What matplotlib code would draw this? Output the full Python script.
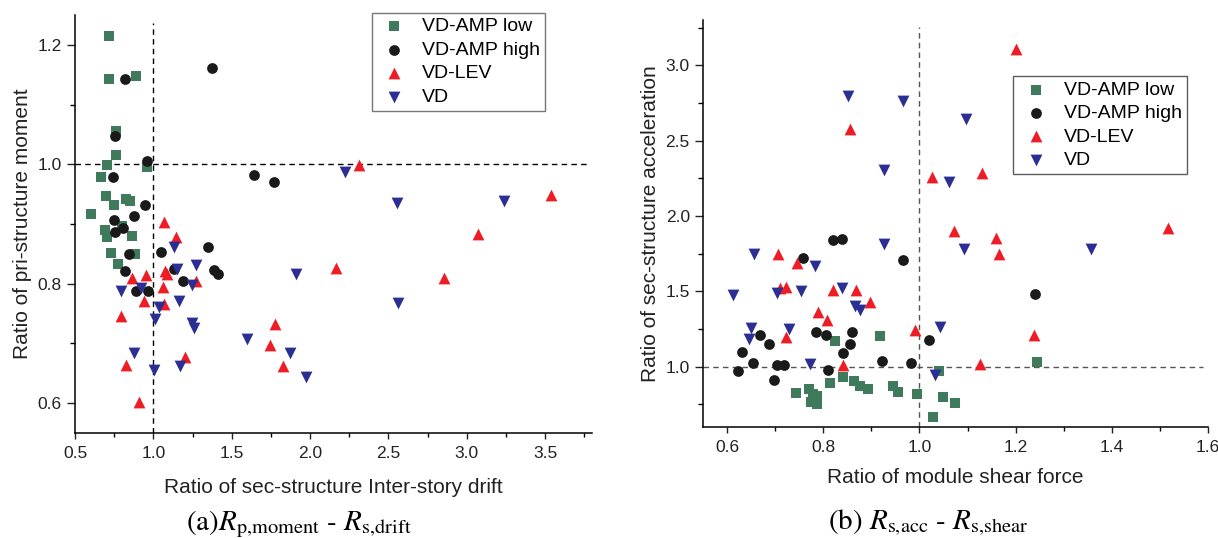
import numpy as np
import matplotlib
matplotlib.use("Agg")
import matplotlib.pyplot as plt
from matplotlib.ticker import MultipleLocator, FormatStrFormatter

plt.rcParams['font.family'] = ['Liberation Sans', 'DejaVu Sans']
plt.rcParams['mathtext.fontset'] = 'stix'

labels = ["VD-AMP low", "VD-AMP high", "VD-LEV", "VD"]

# (a) Rp,moment - Rs,drift
a_low_x = [0.719, 0.715, 0.892, 0.764, 0.764, 0.707, 0.962, 0.668, 0.700, 0.751,
           0.826, 0.852, 0.600, 0.692, 0.800, 0.707, 0.862, 0.730, 0.884, 0.777]
a_low_y = [1.215, 1.142, 1.148, 1.055, 1.016, 0.998, 0.995, 0.979, 0.947, 0.931,
           0.941, 0.938, 0.917, 0.890, 0.897, 0.879, 0.880, 0.852, 0.849, 0.833]
a_high_x = [0.818, 1.376, 0.758, 0.960, 0.745, 1.645, 1.772, 0.946, 0.877, 0.751,
            0.809, 0.756, 0.847, 0.820, 0.888, 0.965, 1.050, 1.350, 1.389, 1.410,
            1.129, 1.192]
a_high_y = [1.142, 1.162, 1.047, 1.006, 0.979, 0.982, 0.970, 0.932, 0.913, 0.906,
            0.893, 0.886, 0.849, 0.822, 0.788, 0.788, 0.853, 0.861, 0.823, 0.816,
            0.824, 0.804]
a_lev_x = [1.069, 1.144, 1.075, 1.090, 0.952, 0.864, 1.060, 0.941, 1.071, 1.274,
           0.794, 0.826, 1.205, 0.907, 2.314, 3.535, 3.070, 2.164, 2.855, 1.779,
           1.745, 1.828]
a_lev_y = [0.904, 0.879, 0.821, 0.817, 0.815, 0.809, 0.794, 0.771, 0.766, 0.804,
           0.746, 0.664, 0.678, 0.602, 0.998, 0.949, 0.884, 0.826, 0.810, 0.733,
           0.697, 0.663]
a_vd_x = [1.133, 1.150, 1.271, 0.794, 0.920, 1.244, 1.162, 1.035, 1.010, 1.248,
          1.259, 0.875, 1.173, 1.007, 1.595, 2.224, 2.552, 3.238, 1.913, 2.563,
          1.875, 1.975]
a_vd_y = [0.861, 0.824, 0.831, 0.788, 0.792, 0.798, 0.771, 0.761, 0.741, 0.734,
          0.725, 0.684, 0.663, 0.655, 0.708, 0.987, 0.935, 0.938, 0.817, 0.767,
          0.684, 0.644]

# (b) Rs,acc - Rs,shear
b_low_x = [0.743, 0.770, 0.778, 0.788, 0.775, 0.788, 0.815, 0.824, 0.841, 0.863,
           0.876, 0.893, 0.917, 0.945, 0.956, 0.995, 1.028, 1.041, 1.048, 1.073,
           1.245]
b_low_y = [0.824, 0.852, 0.817, 0.808, 0.764, 0.751, 0.890, 1.172, 0.934, 0.905,
           0.874, 0.850, 1.205, 0.872, 0.832, 0.821, 0.669, 0.971, 0.800, 0.762,
           1.033]
b_high_x = [0.623, 0.630, 0.654, 0.668, 0.687, 0.697, 0.704, 0.718, 0.758, 0.785,
            0.806, 0.809, 0.820, 0.839, 0.842, 0.855, 0.860, 0.922, 0.965, 0.983,
            1.019, 1.241]
b_high_y = [0.974, 1.095, 1.026, 1.212, 1.152, 0.910, 1.011, 1.011, 1.721, 1.229,
            1.209, 0.980, 1.842, 1.847, 1.088, 1.148, 1.229, 1.040, 1.705, 1.022,
            1.176, 1.485]
b_lev_x = [0.706, 0.711, 0.723, 0.722, 0.746, 0.790, 0.807, 0.820, 0.856, 0.841,
           0.869, 0.897, 0.991, 1.026, 1.071, 1.130, 1.200, 1.160, 1.166, 1.238,
           1.125, 1.516]
b_lev_y = [1.750, 1.525, 1.529, 1.194, 1.686, 1.364, 1.309, 1.511, 2.576, 1.011,
           1.507, 1.430, 1.243, 2.261, 1.900, 2.286, 3.106, 1.856, 1.745, 1.208,
           1.016, 1.919]
b_vd_x = [0.613, 0.650, 0.645, 0.655, 0.704, 0.729, 0.754, 0.772, 0.783, 0.838,
          0.852, 0.866, 0.876, 0.926, 0.926, 0.965, 1.032, 1.042, 1.062, 1.092,
          1.097, 1.357]
b_vd_y = [1.474, 1.254, 1.183, 1.750, 1.489, 1.247, 1.505, 1.018, 1.668, 1.525,
          2.797, 1.401, 1.375, 2.307, 1.816, 2.764, 0.945, 1.265, 2.224, 1.783,
          2.646, 1.783]

colors = ['#3e7a5b', '#1a1a1a', '#ee1c25', '#2b2e92']
markers = ['s', 'o', '^', 'v']
sizes = [44, 60, 72, 72]


def style_axes(ax, xmaj, ymaj):
    for s in ['top', 'right']:
        ax.spines[s].set_visible(False)
    for s in ['left', 'bottom']:
        ax.spines[s].set_linewidth(1.1)
    ax.xaxis.set_major_locator(MultipleLocator(xmaj))
    ax.xaxis.set_minor_locator(MultipleLocator(xmaj / 2))
    ax.yaxis.set_major_locator(MultipleLocator(ymaj))
    ax.yaxis.set_minor_locator(MultipleLocator(ymaj / 2))
    ax.xaxis.set_major_formatter(FormatStrFormatter('%.1f'))
    ax.yaxis.set_major_formatter(FormatStrFormatter('%.1f'))
    ax.tick_params(axis='x', which='major', length=4.5, width=1, pad=5, labelsize=12.5, colors='#222222')
    ax.tick_params(axis='x', which='minor', length=2.8, width=1)
    ax.tick_params(axis='y', which='major', length=6, width=1, pad=3.5, labelsize=12.5, colors='#222222')
    ax.tick_params(axis='y', which='minor', length=3.5, width=1)


def draw(ax, xs, ys):
    for x, y, c, m, s, lab in zip(xs, ys, colors, markers, sizes, labels):
        ax.scatter(x, y, c=c, marker=m, s=s, linewidths=0, label=lab, zorder=3)


fig = plt.figure(figsize=(12.18, 5.38), dpi=100)

ax1 = fig.add_axes([0.0616, 0.1952, 0.4245, 0.777])
draw(ax1, [a_low_x, a_high_x, a_lev_x, a_vd_x], [a_low_y, a_high_y, a_lev_y, a_vd_y])
ax1.set_xlim(0.5, 3.8)
ax1.set_ylim(0.55, 1.25)
ax1.axvline(1.0, ymax=0.98, color='black', ls='--', lw=1, dashes=(4, 3))
ax1.axhline(1.0, xmax=0.99, color='black', ls='--', lw=1, dashes=(4, 3))
style_axes(ax1, 0.5, 0.2)
ax1.set_xlabel("Ratio of sec-structure Inter-story drift", fontsize=15, labelpad=12, color='#222222')
ax1.set_ylabel("Ratio of pri-structure moment", fontsize=15, labelpad=4, color='#222222')
leg1 = ax1.legend(loc='upper right', bbox_to_anchor=(0.909, 1.005), fontsize=14,
                  scatterpoints=1, fancybox=False, borderpad=0.25, labelspacing=0.3,
                  handlelength=1.8, handletextpad=0.55, borderaxespad=0)
leg1.get_frame().set_edgecolor('#555555')
leg1.get_frame().set_linewidth(1)

ax2 = fig.add_axes([0.5772, 0.2063, 0.4146, 0.7565])
draw(ax2, [b_low_x, b_high_x, b_lev_x, b_vd_x], [b_low_y, b_high_y, b_lev_y, b_vd_y])
ax2.set_xlim(0.55, 1.6)
ax2.set_ylim(0.6, 3.3)
ax2.axvline(1.0, ymax=0.983, color='#555555', ls='--', lw=1, dashes=(4, 3))
ax2.axhline(1.0, xmax=0.99, color='#555555', ls='--', lw=1, dashes=(4, 3))
style_axes(ax2, 0.2, 0.5)
ax2.set_xlabel("Ratio of module shear force", fontsize=15, labelpad=9, color='#222222')
ax2.set_ylabel("Ratio of sec-structure acceleration", fontsize=15, labelpad=4, color='#222222')
leg2 = ax2.legend(loc='upper right', bbox_to_anchor=(0.958, 0.862), fontsize=14,
                  scatterpoints=1, fancybox=False, borderpad=0.25, labelspacing=0.3,
                  handlelength=1.8, handletextpad=0.55, borderaxespad=0)
leg2.get_frame().set_edgecolor('#333333')
leg2.get_frame().set_linewidth(1)

fig.text(299 / 1218, 1 - 524 / 538, r"(a)$R_{\mathrm{p{,}moment}}$ - $R_{\mathrm{s{,}drift}}$",
         ha='center', va='center', fontsize=21, family='STIXGeneral')
fig.text(928 / 1218, 1 - 523 / 538, r"(b) $R_{\mathrm{s{,}acc}}$ - $R_{\mathrm{s{,}shear}}$",
         ha='center', va='center', fontsize=21, family='STIXGeneral')

fig.savefig("out.png", dpi=100)
